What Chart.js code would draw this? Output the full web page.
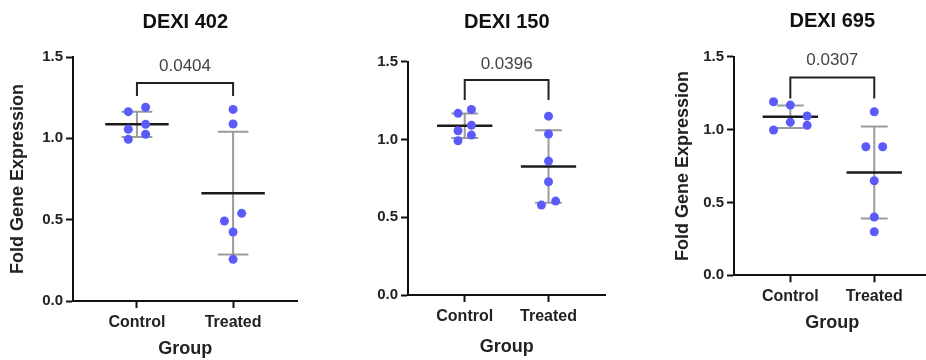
<!DOCTYPE html>
<html>
<head>
<meta charset="utf-8">
<script src="https://cdn.jsdelivr.net/npm/chart.js@4"></script>
<style>
  html, body { margin: 0; padding: 0; background: #fff; overflow: hidden; width: 926px; height: 360px; }
  .panel { position: absolute; top: 0; }
</style>
</head>
<body>
<div class="panel" id="p0"><canvas id="c0"></canvas></div>
<div class="panel" id="p1"><canvas id="c1"></canvas></div>
<div class="panel" id="p2"><canvas id="c2"></canvas></div>
<script>
// ---------- data ----------
const categories = ['Control', 'Treated'];
const genes = ['DEXI 402', 'DEXI 150', 'DEXI 695'];
const pValues = ['0.0404', '0.0396', '0.0307'];
const yTicks = [0, 0.5, 1.0, 1.5];

const control402 = [1.164, 1.191, 1.056, 1.086, 0.994, 1.025];
const treated402 = [1.178, 1.088, 0.539, 0.492, 0.424, 0.256];
const control150 = [1.168, 1.193, 1.056, 1.091, 0.992, 1.028];
const treated150 = [1.150, 1.035, 0.861, 0.728, 0.578, 0.604];
const control695 = [1.191, 1.168, 1.093, 1.051, 1.029, 0.997];
const treated695 = [1.122, 0.882, 0.882, 0.649, 0.400, 0.299];

// beeswarm column slot of each point (-1 left, 0 centre, 1 right)
const controlSlots402 = [-1, 1, -1, 1, -1, 1];
const treatedSlots402 = [0, 0, 1, -1, 0, 0];
const controlSlots150 = [-1, 1, -1, 1, -1, 1];
const treatedSlots150 = [0, 0, 0, 0, -1, 1];
const controlSlots695 = [-1, 0, 1, 0, 1, -1];
const treatedSlots695 = [0, -1, 1, 0, 0, 0];

// ---------- layout / style ----------
const FONT = "'Liberation Sans', Arial, Helvetica, sans-serif";
const panels = [
  { gene: genes[0], p: pValues[0], groups: [control402, treated402], slots: [controlSlots402, treatedSlots402],
    left: 0, width: 302, yWidth: 73, titlePad: {top: 10, bottom: 23}, xHeight: 59, xTitlePad: 0,
    showYTitle: true, xMin: 0.335, xMax: 2.67, spread: [0.09, 0.09], bracket: [1.340, 1.260], pY: 1.445 },
  { gene: genes[1], p: pValues[1], groups: [control150, treated150], slots: [controlSlots150, treatedSlots150],
    left: 320, width: 290, yWidth: 88, titlePad: {top: 10.7, bottom: 27}, xHeight: 65, xTitlePad: 2.5,
    showYTitle: false, xMin: 0.323, xMax: 2.68, spread: [0.08, 0.085], bracket: [1.382, 1.253], pY: 1.485 },
  { gene: genes[2], p: pValues[2], groups: [control695, treated695], slots: [controlSlots695, treatedSlots695],
    left: 665, width: 270, yWidth: 69, titlePad: {top: 9.7, bottom: 23}, xHeight: 84.7, xTitlePad: 26.2,
    showYTitle: true, xMin: 0.329, xMax: 2.67, spread: [0.2, 0.1], bracket: [1.358, 1.214], pY: 1.476 }
];

function mean(a) { return a.reduce((s, v) => s + v, 0) / a.length; }
function sd(a) { const m = mean(a); return Math.sqrt(a.reduce((s, v) => s + (v - m) * (v - m), 0) / (a.length - 1)); }

function makeStatsPlugin(cfg) {
  return {
    id: 'statsBars',
    beforeDatasetsDraw(chart) {
      const {ctx, scales: {x, y}} = chart;
      ctx.save();
      cfg.groups.forEach((vals, gi) => {
        const m = mean(vals), s = sd(vals), c = gi + 1;
        // SD bar (grey)
        ctx.strokeStyle = '#9c9c9c';
        ctx.lineWidth = 2;
        ctx.beginPath();
        ctx.moveTo(x.getPixelForValue(c), y.getPixelForValue(m + s));
        ctx.lineTo(x.getPixelForValue(c), y.getPixelForValue(m - s));
        [m + s, m - s].forEach(v => {
          ctx.moveTo(x.getPixelForValue(c - 0.16), y.getPixelForValue(v));
          ctx.lineTo(x.getPixelForValue(c + 0.16), y.getPixelForValue(v));
        });
        ctx.stroke();
        // mean line (black)
        ctx.strokeStyle = '#1a1a1a';
        ctx.lineWidth = 2.5;
        ctx.beginPath();
        ctx.moveTo(x.getPixelForValue(c - 0.33), y.getPixelForValue(m));
        ctx.lineTo(x.getPixelForValue(c + 0.33), y.getPixelForValue(m));
        ctx.stroke();
      });
      ctx.restore();
    },
    afterDraw(chart) {
      const {ctx, scales: {x, y}} = chart;
      const [top, leg] = cfg.bracket;
      ctx.save();
      ctx.strokeStyle = '#222';
      ctx.lineWidth = 2;
      ctx.beginPath();
      ctx.moveTo(x.getPixelForValue(1), y.getPixelForValue(leg));
      ctx.lineTo(x.getPixelForValue(1), y.getPixelForValue(top));
      ctx.lineTo(x.getPixelForValue(2), y.getPixelForValue(top));
      ctx.lineTo(x.getPixelForValue(2), y.getPixelForValue(leg));
      ctx.stroke();
      ctx.fillStyle = '#444';
      ctx.font = '17px ' + FONT;
      ctx.textAlign = 'center';
      ctx.textBaseline = 'middle';
      ctx.fillText(cfg.p, x.getPixelForValue(1.5), y.getPixelForValue(cfg.pY));
      ctx.restore();
    }
  };
}

panels.forEach((cfg, i) => {
  const wrap = document.getElementById('p' + i);
  wrap.style.left = cfg.left + 'px';
  const canvas = document.getElementById('c' + i);
  canvas.width = cfg.width; canvas.height = 360;
  canvas.style.width = cfg.width + 'px'; canvas.style.height = '360px';

  const datasets = cfg.groups.map((vals, gi) => ({
    label: categories[gi],
    data: vals.map((v, k) => ({ x: gi + 1 + cfg.slots[gi][k] * cfg.spread[gi], y: v })),
    backgroundColor: '#5b5bfb',
    borderWidth: 0,
    pointRadius: 4.5,
    pointHoverRadius: 4.5
  }));

  new Chart(canvas, {
    type: 'scatter',
    data: { datasets },
    plugins: [makeStatsPlugin(cfg)],
    options: {
      responsive: false,
      animation: false,
      devicePixelRatio: 1,
      layout: { padding: 0 },
      plugins: {
        legend: { display: false },
        tooltip: { enabled: false },
        title: {
          display: true, text: cfg.gene, fullSize: false,
          color: '#111', font: { family: FONT, size: 20, weight: 'bold' },
          padding: cfg.titlePad
        }
      },
      scales: {
        x: {
          type: 'linear', min: cfg.xMin, max: cfg.xMax,
          afterBuildTicks: s => { s.ticks = categories.map((c, k) => ({ value: k + 1 })); },
          afterFit: s => { s.height = cfg.xHeight; },
          ticks: {
            callback: v => categories[Math.round(v) - 1],
            color: '#222', padding: 5, maxRotation: 0, autoSkip: false,
            font: { family: FONT, size: 16, weight: 'bold' }
          },
          grid: { drawOnChartArea: false, drawTicks: true, tickLength: 7, tickWidth: 2, tickColor: '#111' },
          border: { display: true, color: '#111', width: 2 },
          title: { display: true, text: 'Group', color: '#222',
                   font: { family: FONT, size: 18, weight: 'bold' }, padding: { top: 0, bottom: cfg.xTitlePad } }
        },
        y: {
          type: 'linear', min: 0, max: 1.5,
          afterBuildTicks: s => { s.ticks = yTicks.map(v => ({ value: v })); },
          afterFit: s => { s.width = cfg.yWidth; },
          ticks: {
            callback: v => Number(v).toFixed(1),
            color: '#222', padding: 3,
            font: { family: FONT, size: 15, weight: 'bold' }
          },
          grid: { drawOnChartArea: false, drawTicks: true, tickLength: 7, tickWidth: 2, tickColor: '#111' },
          border: { display: true, color: '#111', width: 2 },
          title: { display: cfg.showYTitle, text: 'Fold Gene Expression', color: '#222',
                   font: { family: FONT, size: 18, weight: 'bold' }, padding: { top: 7.2, bottom: 0 } }
        }
      }
    }
  });
});
</script>
</body>
</html>
